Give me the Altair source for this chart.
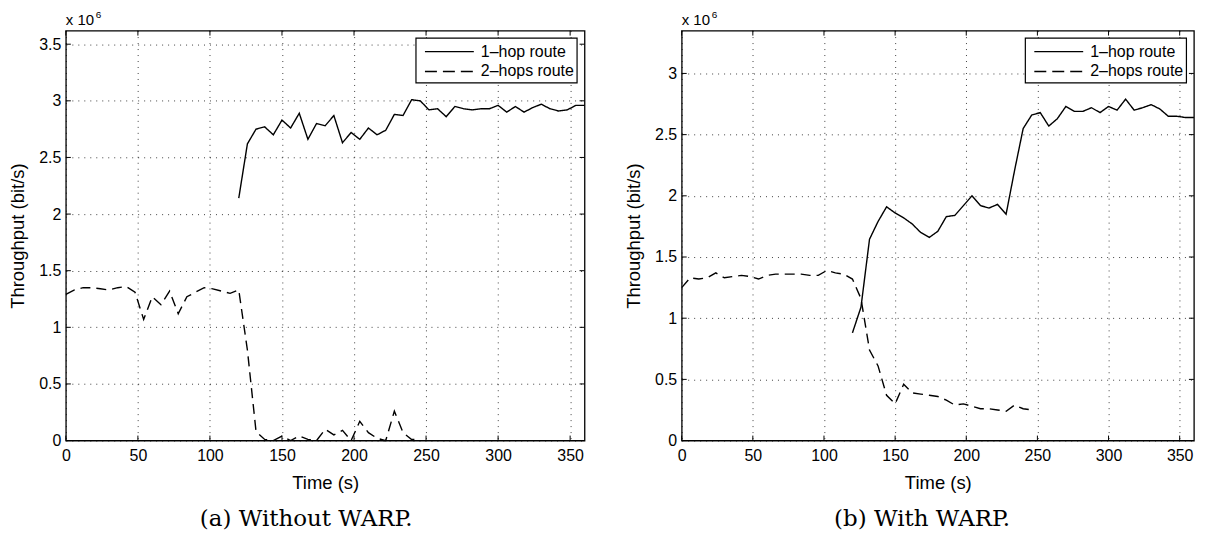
import altair as alt
import pandas as pd

# ---------------- data (throughput in units of 10^6 bit/s, samples every 6 s) ----------------
SERIES = ["1–hop route", "2–hops route"]

t_a_1hop = list(range(120, 361, 6))
a_1hop = [2.14, 2.62, 2.75, 2.77, 2.70, 2.83, 2.76, 2.89, 2.66, 2.80,
          2.78, 2.87, 2.63, 2.72, 2.66, 2.76, 2.70, 2.74, 2.88, 2.87,
          3.01, 3.00, 2.92, 2.93, 2.86, 2.95, 2.93, 2.92, 2.93, 2.93,
          2.96, 2.90, 2.95, 2.90, 2.94, 2.97, 2.93, 2.91, 2.92, 2.96,
          2.96]

t_a_2hop = list(range(0, 247, 6))
a_2hop = [1.29, 1.33, 1.35, 1.35, 1.34, 1.33, 1.35, 1.36, 1.31, 1.07,
          1.27, 1.20, 1.32, 1.12, 1.27, 1.31, 1.35, 1.34, 1.32, 1.30,
          1.33, 0.80, 0.08, 0.01, 0.00, 0.04, 0.00, 0.04, 0.01, 0.00,
          0.10, 0.05, 0.09, 0.00, 0.17, 0.07, 0.02, 0.00, 0.26, 0.07,
          0.01, 0.01]

t_b_1hop = list(range(120, 361, 6))
b_1hop = [0.88, 1.09, 1.645, 1.79, 1.91, 1.86, 1.82, 1.77, 1.70, 1.66,
          1.71, 1.83, 1.84, 1.92, 2.00, 1.92, 1.90, 1.93, 1.85, 2.21,
          2.55, 2.66, 2.68, 2.57, 2.63, 2.73, 2.69, 2.69, 2.72, 2.68,
          2.73, 2.70, 2.79, 2.70, 2.72, 2.745, 2.71, 2.65, 2.65, 2.64,
          2.64]

t_b_2hop = list(range(0, 247, 6))
b_2hop = [1.25, 1.33, 1.32, 1.33, 1.37, 1.33, 1.34, 1.35, 1.34, 1.32,
          1.35, 1.36, 1.36, 1.36, 1.36, 1.35, 1.35, 1.39, 1.37, 1.36,
          1.32, 1.16, 0.74, 0.61, 0.37, 0.30, 0.46, 0.39, 0.38, 0.37,
          0.36, 0.33, 0.29, 0.30, 0.28, 0.26, 0.26, 0.25, 0.24, 0.29,
          0.26, 0.25]

XTICKS = [0, 50, 100, 150, 200, 250, 300, 350]
YTICKS_A = [0, 0.5, 1, 1.5, 2, 2.5, 3, 3.5]
YTICKS_B = [0, 0.5, 1, 1.5, 2, 2.5, 3]
CAPTIONS = ["(a) Without WARP.", "(b) With WARP."]

FONT = "Liberation Sans"
H = 411


def panel(t1, v1, t2, v2, ymax, yticks, caption, W):
    df = pd.DataFrame({
        "t": t1 + t2,
        "v": v1 + v2,
        "route": [SERIES[0]] * len(t1) + [SERIES[1]] * len(t2),
    })
    xs = alt.Scale(domain=[0, 360], nice=False, zero=False)
    ys = alt.Scale(domain=[0, ymax], nice=False)
    xax = alt.Axis(values=XTICKS, title="Time (s)", labelPadding=7, titlePadding=10,
                   labelFlush=False)
    yax = alt.Axis(values=yticks, format="~g", title="Throughput (bit/s)",
                   labelPadding=5, titlePadding=11)

    def X(f):
        return alt.X(f, scale=xs, axis=xax, title="Time (s)")

    def Y(f):
        return alt.Y(f, scale=ys, axis=yax, title="Throughput (bit/s)")

    lines = alt.Chart(df).mark_line(color="black", strokeWidth=1.4).encode(
        x=X("t:Q"),
        y=Y("v:Q"),
        strokeDash=alt.StrokeDash("route:N", scale=alt.Scale(
            domain=SERIES, range=[[1, 0], [10, 6]]), legend=None),
    )

    ydf = pd.DataFrame({"v": yticks})
    xdf = pd.DataFrame({"t": XTICKS})
    tick_l = alt.Chart(ydf).mark_rule(color="black", strokeWidth=1).encode(
        y=Y("v:Q"), x=alt.value(0), x2=alt.value(5))
    tick_r = alt.Chart(ydf).mark_rule(color="black", strokeWidth=1).encode(
        y=Y("v:Q"), x=alt.value(W - 5), x2=alt.value(W))
    tick_b = alt.Chart(xdf).mark_rule(color="black", strokeWidth=1).encode(
        x=X("t:Q"), y=alt.value(H - 5), y2=alt.value(H))
    tick_t = alt.Chart(xdf).mark_rule(color="black", strokeWidth=1).encode(
        x=X("t:Q"), y=alt.value(0), y2=alt.value(5))

    # legend box (top-right, inside the axes)
    bx0, bx1 = W - 169, W - 7.5
    one = pd.DataFrame({"label": [SERIES[0]]})
    two = pd.DataFrame({"label": [SERIES[1]]})
    box = alt.Chart(one).mark_rect(fill="white", stroke="black", strokeWidth=1.2).encode(
        x=alt.value(bx0), x2=alt.value(bx1), y=alt.value(7.5), y2=alt.value(52.5))
    s1 = alt.Chart(one).mark_rule(color="black", strokeWidth=1.3).encode(
        x=alt.value(bx0 + 9), x2=alt.value(bx0 + 58), y=alt.value(21))
    s2 = alt.Chart(two).mark_rule(color="black", strokeWidth=1.3, strokeDash=[12, 6]).encode(
        x=alt.value(bx0 + 9), x2=alt.value(bx0 + 58), y=alt.value(41))
    l1 = alt.Chart(one).mark_text(align="left", baseline="middle", font=FONT,
                                  fontSize=16, color="black").encode(
        text="label:N", x=alt.value(bx0 + 65), y=alt.value(21))
    l2 = alt.Chart(two).mark_text(align="left", baseline="middle", font=FONT,
                                  fontSize=16, color="black").encode(
        text="label:N", x=alt.value(bx0 + 65), y=alt.value(41))

    # exponent note and caption
    exp1 = alt.Chart(pd.DataFrame({"s": ["x 10"]})).mark_text(
        align="left", baseline="middle", font=FONT, fontSize=15, color="black").encode(
        text="s:N", x=alt.value(0), y=alt.value(-10.5))
    exp2 = alt.Chart(pd.DataFrame({"s": ["6"]})).mark_text(
        align="left", baseline="middle", font=FONT, fontSize=10, color="black").encode(
        text="s:N", x=alt.value(30), y=alt.value(-16))
    cap = alt.Chart(pd.DataFrame({"s": [caption]})).mark_text(
        align="center", baseline="middle", font="DejaVu Serif", fontSize=23,
        color="black").encode(text="s:N", x=alt.value(241), y=alt.value(490))

    return alt.layer(lines, tick_l, tick_r, tick_b, tick_t, box, s1, s2, l1, l2,
                     exp1, exp2, cap).properties(width=W, height=H)


left = panel(t_a_1hop, a_1hop, t_a_2hop, a_2hop, 3.62, YTICKS_A, CAPTIONS[0], 520)
right = panel(t_b_1hop, b_1hop, t_b_2hop, b_2hop, 3.35, YTICKS_B, CAPTIONS[1], 513.5)

chart = alt.hconcat(left, right, spacing=97.4, bounds="flush").properties(
    padding={"left": 0, "top": 0, "right": 0, "bottom": 0}
).configure_view(
    stroke="black", strokeWidth=1.3
).configure_axis(
    grid=True, gridDash=[1, 5], gridColor="#000000", gridOpacity=0.75, gridWidth=1,
    domain=False, ticks=False, tickSize=0,
    labelFont=FONT, labelFontSize=16, labelColor="black",
    titleFont=FONT, titleFontSize=18.5, titleFontWeight="normal", titleColor="black",
)

chart.save("out.html", embed_options={"renderer": "svg", "actions": False})
